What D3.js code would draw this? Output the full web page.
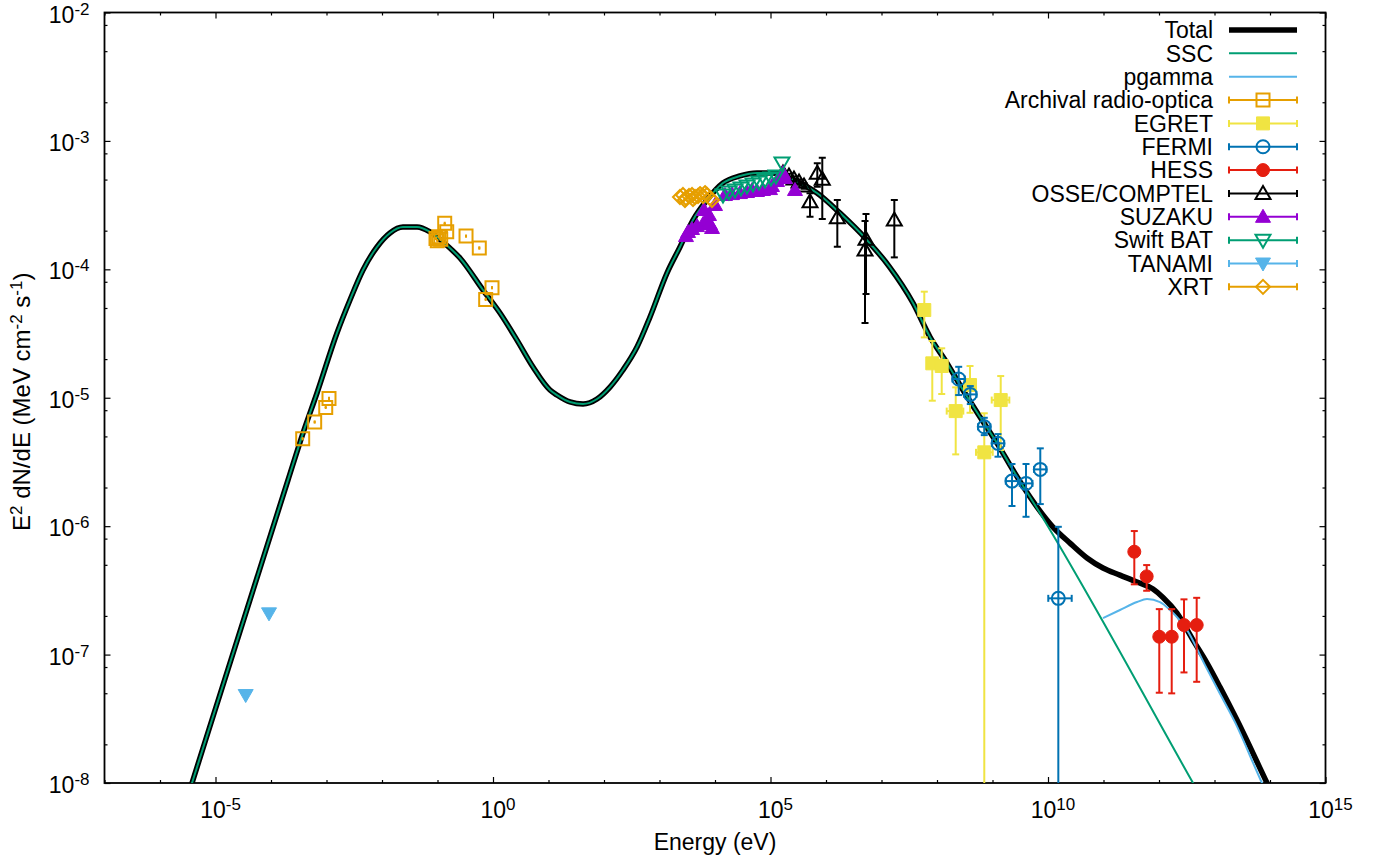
<!DOCTYPE html>
<html>
<head>
<meta charset="utf-8">
<script src="https://cdn.jsdelivr.net/npm/d3@7"></script>
<style>
  body { margin: 0; background: #fff; }
  text { font-family: "Liberation Sans", Arial, Helvetica, sans-serif; }
</style>
</head>
<body>
<div id="chart"></div>
<script>
// all values are log10 (energy in eV, E^2 dN/dE in MeV cm^-2 s^-1)

// model curves [logE, logF]
const sscCurve = [
  [-5.640, -8.297], [-5.423, -8.000], [-3.694, -5.641], [-3.423, -5.275], [-3.171, -4.963],
  [-2.811, -4.496], [-2.577, -4.239], [-2.342, -4.005], [-2.090, -3.826], [-1.856, -3.717],
  [-1.622, -3.671], [-1.369, -3.671], [-1.135, -3.709], [-0.901, -3.787], [-0.595, -3.912],
  [-0.180, -4.161], [0.126, -4.340], [0.432, -4.551], [0.721, -4.761], [1.027, -4.940],
  [1.153, -4.979], [1.387, -5.033], [1.622, -5.049], [1.874, -5.010], [2.108, -4.917],
  [2.342, -4.784], [2.595, -4.605], [2.829, -4.371], [3.135, -4.029], [3.369, -3.826],
  [3.604, -3.616], [3.856, -3.460], [4.144, -3.328], [4.450, -3.273], [4.757, -3.250],
  [5.045, -3.250], [5.297, -3.281], [5.532, -3.328], [5.838, -3.406], [6.252, -3.562],
  [6.739, -3.772], [7.143, -3.980], [7.568, -4.262], [7.874, -4.527], [8.180, -4.730],
  [8.468, -4.940], [8.775, -5.150], [9.081, -5.353], [9.369, -5.563], [9.676, -5.773],
  [12.613, -8.000], [12.919, -8.234]
];

const pgammaCurve = [
  [10.991, -6.716], [11.297, -6.653], [11.604, -6.591], [11.784, -6.568], [12.018, -6.591],
  [12.198, -6.653], [12.505, -6.809], [12.829, -7.082], [13.063, -7.276], [13.369, -7.526],
  [13.856, -8.000], [14.108, -8.226]
];

// total = SSC below 1e10 eV, then the p-gamma bump adds on
const totalTail = [
  [10.090, -6.007], [10.396, -6.132], [10.703, -6.248], [10.991, -6.326], [11.297, -6.381],
  [11.604, -6.435], [11.892, -6.490], [12.072, -6.555], [12.324, -6.677], [12.613, -6.887],
  [12.865, -7.066], [13.099, -7.253], [13.405, -7.510], [13.946, -8.000], [14.180, -8.211]
];

// data sets: e, f, lo/hi (flux error), elo/ehi (energy error)
const archival = [
  [-3.429, -5.319], [-3.213, -5.189], [-3.014, -5.075], [-2.955, -5.005],
  [-1.027, -3.759], [-1.004, -3.777], [-0.978, -3.746], [-0.942, -3.766],
  [-0.870, -3.642], [-0.834, -3.707], [-0.486, -3.741], [-0.247, -3.834],
  [-0.132, -4.234], [-0.018, -4.143]
].map(([e, f]) => ({ e, f, lo: f - 0.005, hi: f + 0.005 }));

const egret = [
  { e: 7.771, f: -4.317, hi: -4.174, lo: -4.530 },
  { e: 7.915, f: -4.732, hi: -4.558, lo: -5.023 },
  { e: 8.085, f: -4.753, hi: -4.615, lo: -4.971 },
  { e: 8.595, f: -4.901, hi: -4.753, lo: -5.117 },
  { e: 8.337, f: -5.104, hi: -4.919, lo: -5.441, elo: 8.175, ehi: 8.474 },
  { e: 9.148, f: -5.018, hi: -4.831, lo: -5.407, elo: 8.986, ehi: 9.303 },
  { e: 8.852, f: -5.425, hi: -5.121, lo: -12, elo: 8.703, ehi: 9.004 }
];

const fermi = [
  { e: 8.391, f: -4.854, hi: -4.759, lo: -4.979, elo: 8.28, ehi: 8.50 },
  { e: 8.600, f: -4.974, hi: -4.909, lo: -5.049, elo: 8.49, ehi: 8.71 },
  { e: 8.852, f: -5.226, hi: -5.156, lo: -5.291, elo: 8.74, ehi: 8.96 },
  { e: 9.099, f: -5.355, hi: -5.283, lo: -5.459, elo: 8.99, ehi: 9.21 },
  { e: 9.351, f: -5.649, hi: -5.516, lo: -5.843, elo: 9.24, ehi: 9.46 },
  { e: 9.604, f: -5.667, hi: -5.516, lo: -5.927, elo: 9.49, ehi: 9.72 },
  { e: 9.861, f: -5.558, hi: -5.394, lo: -5.828, elo: 9.75, ehi: 9.97 },
  { e: 10.186, f: -6.562, hi: -6.005, lo: -12, elo: 10.005, ehi: 10.427 }
];

const hess = [
  { e: 11.555, f: -6.199, hi: -6.038, lo: -6.453 },
  { e: 11.778, f: -6.391, hi: -6.303, lo: -6.503 },
  { e: 12.005, f: -6.861, hi: -6.646, lo: -7.297 },
  { e: 12.229, f: -6.861, hi: -6.646, lo: -7.302 },
  { e: 12.450, f: -6.770, hi: -6.570, lo: -7.139 },
  { e: 12.679, f: -6.770, hi: -6.558, lo: -7.212 }
];

const osse = [
  { e: 5.225, f: -3.250, hi: -3.235, lo: -3.265 },
  { e: 5.333, f: -3.273, hi: -3.255, lo: -3.290 },
  { e: 5.423, f: -3.297, hi: -3.278, lo: -3.315 },
  { e: 5.514, f: -3.320, hi: -3.300, lo: -3.340 },
  { e: 5.604, f: -3.351, hi: -3.330, lo: -3.372 },
  { e: 5.712, f: -3.474, hi: -3.408, lo: -3.590 },
  { e: 5.843, f: -3.252, hi: -3.174, lo: -3.357 },
  { e: 5.933, f: -3.299, hi: -3.131, lo: -3.608 },
  { e: 6.204, f: -3.598, hi: -3.460, lo: -3.824 },
  { e: 6.721, f: -3.766, hi: -3.569, lo: -4.192 },
  { e: 6.703, f: -3.850, hi: -3.624, lo: -4.418 },
  { e: 7.231, f: -3.616, hi: -3.460, lo: -3.907 }
];

const suzaku = [
  [3.477, -3.741], [3.514, -3.709], [3.586, -3.686], [3.676, -3.663], [3.784, -3.647],
  [3.856, -3.616], [3.892, -3.577], [3.946, -3.678], [3.802, -3.538], [3.910, -3.647],
  [4.000, -3.499], [4.180, -3.421], [4.306, -3.414], [4.450, -3.406], [4.577, -3.398],
  [4.667, -3.382], [4.757, -3.390], [4.865, -3.382], [4.991, -3.375], [5.027, -3.351],
  [5.117, -3.312], [5.189, -3.273], [5.225, -3.250], [5.261, -3.289], [5.441, -3.382]
].map(([e, f]) => ({ e, f }));

const swiftBat = [
  [4.144, -3.421], [4.252, -3.398], [4.360, -3.382], [4.468, -3.367], [4.577, -3.351],
  [4.685, -3.336], [4.793, -3.320], [4.901, -3.304], [5.009, -3.289], [5.099, -3.273],
  [5.207, -3.172]
].map(([e, f]) => ({ e, f }));

const tanami = [[-4.036, -6.679], [-4.456, -7.315]].map(([e, f]) => ({ e, f }));

const xrt = [
  [3.369, -3.437], [3.423, -3.421], [3.477, -3.445], [3.532, -3.429], [3.586, -3.421],
  [3.640, -3.437], [3.694, -3.429], [3.730, -3.414], [3.784, -3.429], [3.820, -3.406],
  [3.856, -3.421], [3.910, -3.445], [3.946, -3.460], [3.459, -3.460], [3.604, -3.452]
].map(([e, f]) => ({ e, f }));

const xMajor = [-5, 0, 5, 10, 15];
const yMajor = [-8, -7, -6, -5, -4, -3, -2];

const width = 1375, height = 862;
const margin = { top: 12.5, left: 104.5, bottom: 79, right: 49.5 };
const iwidth = width - margin.left - margin.right;
const iheight = height - margin.top - margin.bottom;
const p = v => Math.pow(10, v);

const svg = d3.select("#chart").append("svg")
  .attr("width", width).attr("height", height);

svg.append("defs").append("clipPath").attr("id", "clip")
  .append("rect").attr("width", iwidth).attr("height", iheight);

const g = svg.append("g").attr("transform", `translate(${margin.left},${margin.top})`);

const x = d3.scaleLog().domain([1e-7, 1e15]).range([0, iwidth]);
const y = d3.scaleLog().domain([1e-8, 1e-2]).range([iheight, 0]);

// ticks (inward, mirrored on all four sides)
const xMinor = d3.range(-7, 16).filter(d => d % 5 !== 0).map(p);
const yMinor = [];
d3.range(-8, -2).forEach(k => [2, 5, 8].forEach(m => yMinor.push(m * p(k))));

const axes = g.append("g");
[[d3.axisBottom, x, `translate(0,${iheight})`, xMajor.map(p), xMinor],
 [d3.axisTop, x, `translate(0,0)`, xMajor.map(p), xMinor],
 [d3.axisLeft, y, `translate(0,0)`, yMajor.map(p), yMinor],
 [d3.axisRight, y, `translate(${iwidth},0)`, yMajor.map(p), yMinor]
].forEach(([mk, sc, tr, maj, min]) => {
  axes.append("g").attr("transform", tr)
    .call(mk(sc).tickValues(maj).tickSize(-6).tickFormat(""));
  axes.append("g").attr("transform", tr)
    .call(mk(sc).tickValues(min).tickSize(-3).tickFormat(""));
});
axes.selectAll(".domain").remove();
axes.selectAll(".tick line").attr("stroke", "#000").attr("stroke-width", 1.2);

g.append("rect").attr("width", iwidth).attr("height", iheight)
  .attr("fill", "none").attr("stroke", "#000").attr("stroke-width", 1.8);

// tick labels as 10^n
function powLabel(sel, n) {
  sel.append("tspan").text("10");
  sel.append("tspan").attr("dy", -8).attr("font-size", 17).text(n);
}
xMajor.forEach(n => {
  const t = g.append("text").attr("x", x(p(n)) + 5).attr("y", iheight + 35)
    .attr("text-anchor", "middle").attr("font-size", 23);
  powLabel(t, n);
});
yMajor.forEach(n => {
  const t = g.append("text").attr("x", -15).attr("y", y(p(n)) + 10)
    .attr("text-anchor", "end").attr("font-size", 23);
  powLabel(t, n);
});

// axis titles
g.append("text").attr("x", iwidth / 2).attr("y", iheight + 67)
  .attr("text-anchor", "middle").attr("font-size", 23).text("Energy (eV)");
const yl = g.append("text").attr("transform", `translate(${-75},${iheight / 2 + 4}) rotate(-90)`)
  .attr("text-anchor", "middle").attr("font-size", 24);
yl.append("tspan").text("E");
yl.append("tspan").attr("dy", -8).attr("font-size", 17).text("2");
yl.append("tspan").attr("dy", 8).text(" dN/dE (MeV cm");
yl.append("tspan").attr("dy", -8).attr("font-size", 17).text("-2");
yl.append("tspan").attr("dy", 8).text("  s");
yl.append("tspan").attr("dy", -8).attr("font-size", 17).text("-1");
yl.append("tspan").attr("dy", 8).text(")");

// plotting area
const plot = g.append("g").attr("clip-path", "url(#clip)");
const line = d3.line().x(d => x(p(d[0]))).y(d => y(p(d[1]))).curve(d3.curveMonotoneX);

const totalCurve = sscCurve.filter(d => d[0] < 9.8).concat(totalTail);
plot.append("path").datum(totalCurve).attr("d", line)
  .attr("fill", "none").attr("stroke", "#000").attr("stroke-width", 5.5).attr("stroke-linejoin", "round");
plot.append("path").datum(sscCurve).attr("d", line)
  .attr("fill", "none").attr("stroke", "#009e73").attr("stroke-width", 2);
plot.append("path").datum(pgammaCurve).attr("d", line)
  .attr("fill", "none").attr("stroke", "#56b4e9").attr("stroke-width", 2);

// markers
const shapes = {
  square: "M-6.5,-6.5h13v13h-13Z",
  triUp: "M0,-7.5L7.5,5.5L-7.5,5.5Z",
  triDown: "M0,7.5L7.5,-5.5L-7.5,-5.5Z",
  diamond: "M0,-7L7,0L0,7L-7,0Z"
};
function marker(sel, shape, color, filled) {
  let m;
  if (shape === "circle") m = sel.append("circle").attr("r", 6.5);
  else m = sel.append("path").attr("d", shapes[shape]);
  m.attr("fill", filled ? color : "none").attr("stroke", color)
    .attr("stroke-width", filled ? 1 : 2);
  return m;
}

const series = [
  { name: "Archival radio-optica", data: archival, shape: "square", color: "#e69f00", filled: false, cap: 1 },
  { name: "EGRET", data: egret, shape: "square", color: "#f0e442", filled: true },
  { name: "FERMI", data: fermi, shape: "circle", color: "#0072b2", filled: false },
  { name: "HESS", data: hess, shape: "circle", color: "#e51e10", filled: true },
  { name: "OSSE/COMPTEL", data: osse, shape: "triUp", color: "#000000", filled: false },
  { name: "SUZAKU", data: suzaku, shape: "triUp", color: "#9400d3", filled: true },
  { name: "Swift BAT", data: swiftBat, shape: "triDown", color: "#009e73", filled: false },
  { name: "TANAMI", data: tanami, shape: "triDown", color: "#56b4e9", filled: true },
  { name: "XRT", data: xrt, shape: "diamond", color: "#e69f00", filled: false }
];

series.forEach(s => {
  const sg = plot.append("g");
  const cap = s.cap || 3.5;
  s.data.forEach(d => {
    const cx = x(p(d.e)), cy = y(p(d.f));
    if (d.hi !== undefined) {
      const y1 = y(p(d.hi)), y2 = y(p(d.lo));
      sg.append("line").attr("x1", cx).attr("x2", cx).attr("y1", y1).attr("y2", y2)
        .attr("stroke", s.color).attr("stroke-width", 2);
      [y1, y2].forEach(yy => sg.append("line").attr("x1", cx - cap).attr("x2", cx + cap)
        .attr("y1", yy).attr("y2", yy).attr("stroke", s.color).attr("stroke-width", 2));
    }
    if (d.elo !== undefined) {
      const x1 = x(p(d.elo)), x2 = x(p(d.ehi));
      sg.append("line").attr("x1", x1).attr("x2", x2).attr("y1", cy).attr("y2", cy)
        .attr("stroke", s.color).attr("stroke-width", 2);
      [x1, x2].forEach(xx => sg.append("line").attr("x1", xx).attr("x2", xx)
        .attr("y1", cy - cap).attr("y2", cy + cap).attr("stroke", s.color).attr("stroke-width", 2));
    }
    marker(sg.append("g").attr("transform", `translate(${cx},${cy})`), s.shape, s.color, s.filled);
  });
});

// legend
const legendRows = [
  { name: "Total", color: "#000", lw: 5.5 },
  { name: "SSC", color: "#009e73", lw: 2 },
  { name: "pgamma", color: "#56b4e9", lw: 2 }
].concat(series.map(s => ({ name: s.name, color: s.color, lw: 2, s })));

const legend = svg.append("g");
legendRows.forEach((r, i) => {
  const ly = 30 + i * 23.35;
  legend.append("text").attr("x", 1213).attr("y", ly).attr("dy", "0.36em")
    .attr("text-anchor", "end").attr("font-size", 23).text(r.name);
  legend.append("line").attr("x1", 1229).attr("x2", 1297).attr("y1", ly).attr("y2", ly)
    .attr("stroke", r.color).attr("stroke-width", r.lw);
  if (r.s) {
    [1229, 1297].forEach(xx => legend.append("line").attr("x1", xx).attr("x2", xx)
      .attr("y1", ly - 3.5).attr("y2", ly + 3.5).attr("stroke", r.color).attr("stroke-width", 2));
    marker(legend.append("g").attr("transform", `translate(1263,${ly})`), r.s.shape, r.s.color, r.s.filled);
  }
});
</script>
</body>
</html>
